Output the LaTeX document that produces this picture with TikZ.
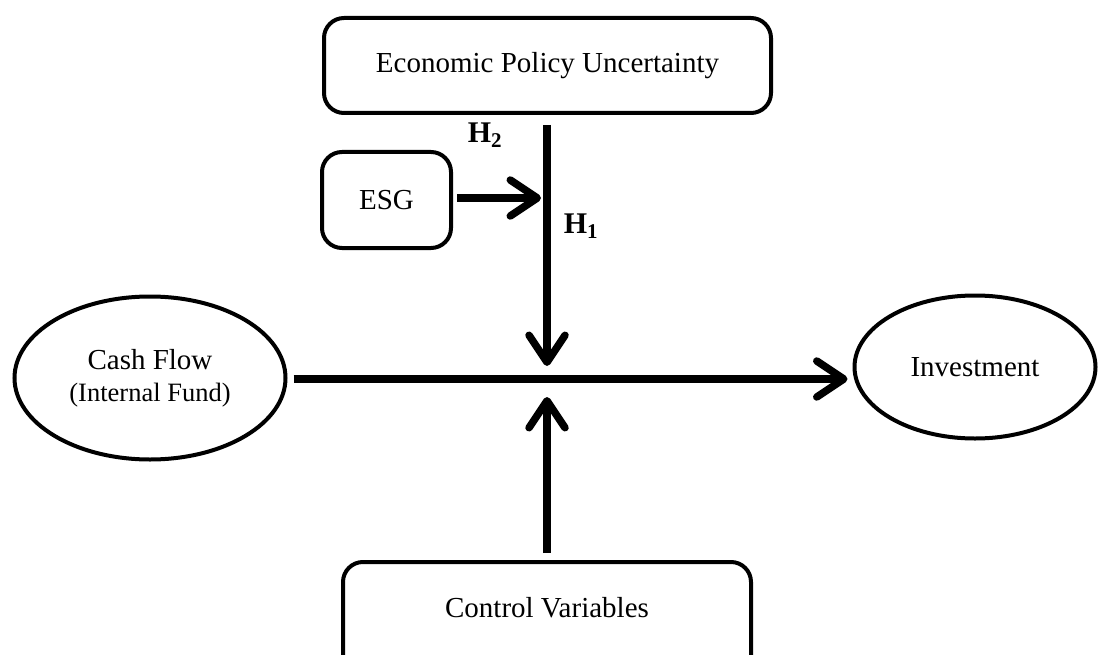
\documentclass[tikz,border=0pt]{standalone}
\usepackage{fontspec}
\setmainfont{Liberation Serif}
\usetikzlibrary{arrows.meta,shapes.geometric,calc}
\begin{document}
\begin{tikzpicture}[x=1pt,y=-1pt,
  box/.style={draw,line width=4pt,rounded corners=20pt,inner sep=0pt,font=\fontsize{29}{34}\selectfont},
  oval/.style={draw,ellipse,line width=4pt,inner sep=0pt,align=center,font=\fontsize{29}{34}\selectfont},
  conn/.style={line width=7.5pt},
  arr/.style={conn,-{Straight Barb[length=27pt,width=36pt,line cap=round,line join=round]}},
  hlab/.style={font=\fontsize{30}{34}\selectfont\bfseries}]
\useasboundingbox (0,0) rectangle (1099,655);
\node[box,minimum width=447pt,minimum height=95pt] (epu) at (547.5,65.5) {Economic Policy Uncertainty};
\node[box,minimum width=129pt,minimum height=96pt] (esg) at (386.5,200) {ESG};
\node[oval,minimum width=271pt,minimum height=163pt] (cf) at (150,378)
  {Cash Flow\\[-2pt]{\fontsize{26.5}{30}\selectfont (Internal Fund)}};
\node[oval,minimum width=241pt,minimum height=143pt] (inv) at (975,367) {Investment};
\node[box,minimum width=408pt,minimum height=116pt] (cv) at (547,620) {};
\node[font=\fontsize{29}{34}\selectfont] (cvt) at (547,608) {Control Variables};
\coordinate (mtop) at (547,366);
\coordinate (mbot) at (547,397);
\coordinate (mod) at (541,198);
\draw[arr] (mtop |- epu.south) ++(0,10) -- (mtop);
\draw[arr] ([xshift=4pt]esg.east |- mod) -- (mod);
\draw[arr] ([xshift=6pt,yshift=-1pt]cf.east) -- ([xshift=-5pt]inv.west |- 0,379);
\draw[arr] ([yshift=7pt]cv.north) -- (mbot);
\node[hlab] (h2) at (485,135) {H\textsubscript{2}};
\node[hlab] (h1) at (581,226) {H\textsubscript{1}};
\end{tikzpicture}
\end{document}
